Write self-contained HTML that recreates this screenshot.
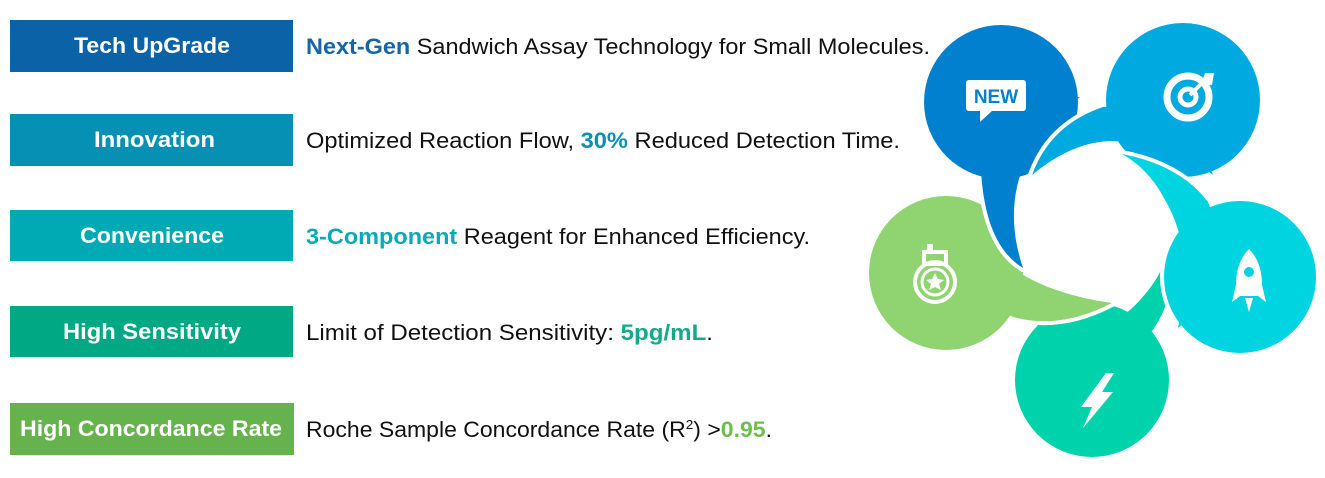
<!DOCTYPE html>
<html><head><meta charset="utf-8"><style>
html,body{margin:0;padding:0;background:#fff;}
svg{display:block;}
text{font-family:"Liberation Sans",sans-serif;}
</style></head><body>
<svg width="1325" height="478" viewBox="0 0 1325 478" xmlns="http://www.w3.org/2000/svg">
<defs>
<g id="pg"><circle cx="946" cy="273" r="77"/><path d="M965,197 Q985,285 1112,303 Q1060,330 1013,317 L946,273 Z"/></g>
<g id="pb"><circle cx="1001" cy="102" r="77"/><path d="M981,170 Q985,245 1023,268 Q1000,200 1035,143 Q1055,115 1080,97 L1001,102 Z"/></g>
<g id="pl"><circle cx="1183" cy="100" r="77"/><path d="M1103,107 Q1050,125 1032,175 Q1080,135 1127,142 Q1180,148 1213,175 L1183,100 Z"/></g>
<g id="pc"><circle cx="1240" cy="277" r="76"/><path d="M1122,154 Q1180,165 1208,202 L1240,277 L1178,328 Q1195,250 1165,200 Q1150,170 1122,154 Z"/></g>
<g id="pt"><circle cx="1092" cy="380" r="77"/><path d="M1172,233 Q1180,290 1153,330 L1092,380 L1025,340 Q1100,345 1140,300 Q1168,270 1172,233 Z"/></g>
</defs>
<rect width="1325" height="478" fill="#fff"/>
<rect x="10" y="20" width="283" height="52" fill="#0c62a6"/>
<rect x="10" y="114" width="283" height="52" fill="#0690b4"/>
<rect x="10" y="210" width="283" height="51" fill="#00aab4"/>
<rect x="10" y="306" width="283" height="51" fill="#00a983"/>
<rect x="10" y="403" width="284" height="52" fill="#66b24c"/>
<g fill="#fff" font-weight="bold" font-size="22">
<text x="74" y="53" textLength="156" lengthAdjust="spacingAndGlyphs">Tech UpGrade</text>
<text x="94" y="147" textLength="121" lengthAdjust="spacingAndGlyphs">Innovation</text>
<text x="80" y="243" textLength="144" lengthAdjust="spacingAndGlyphs">Convenience</text>
<text x="63" y="339" textLength="178" lengthAdjust="spacingAndGlyphs">High Sensitivity</text>
<text x="20" y="436" textLength="262" lengthAdjust="spacingAndGlyphs">High Concordance Rate</text>
</g>
<g font-size="22" fill="#111">
<text x="306" y="54" textLength="624" lengthAdjust="spacingAndGlyphs"><tspan fill="#1565a8" font-weight="bold">Next-Gen</tspan> Sandwich Assay Technology for Small Molecules.</text>
<text x="306" y="148" textLength="594" lengthAdjust="spacingAndGlyphs">Optimized Reaction Flow, <tspan fill="#0a8fb5" font-weight="bold">30%</tspan> Reduced Detection Time.</text>
<text x="306" y="244" textLength="504" lengthAdjust="spacingAndGlyphs"><tspan fill="#0aa9b5" font-weight="bold">3-Component</tspan> Reagent for Enhanced Efficiency.</text>
<text x="306" y="340" textLength="407" lengthAdjust="spacingAndGlyphs">Limit of Detection Sensitivity: <tspan fill="#13aa88" font-weight="bold">5pg/mL</tspan>.</text>
<text x="306" y="437" textLength="466" lengthAdjust="spacingAndGlyphs">Roche Sample Concordance Rate (R<tspan font-size="13" dy="-8">2</tspan><tspan dy="8">) &gt;</tspan><tspan fill="#6cbf4e" font-weight="bold">0.95</tspan>.</text>
</g>
<use href="#pt" fill="#fff" stroke="#fff" stroke-width="8" stroke-linejoin="round"/>
<use href="#pt" fill="#00d2ab"/>
<use href="#pg" fill="#fff" stroke="#fff" stroke-width="8" stroke-linejoin="round"/>
<use href="#pg" fill="#8fd470"/>
<use href="#pb" fill="#fff" stroke="#fff" stroke-width="8" stroke-linejoin="round"/>
<use href="#pb" fill="#0280d0"/>
<use href="#pl" fill="#fff" stroke="#fff" stroke-width="8" stroke-linejoin="round"/>
<use href="#pl" fill="#00a9e0"/>
<use href="#pc" fill="#fff" stroke="#fff" stroke-width="8" stroke-linejoin="round"/>
<use href="#pc" fill="#00d4e0"/>
<g>
<rect x="966" y="80" width="60" height="31" rx="3" fill="#fff"/>
<polygon points="980,110 980,122 993,110" fill="#fff"/>
<text x="996" y="103" text-anchor="middle" font-size="19" font-weight="bold" fill="#0280d0">NEW</text>
</g>
<g fill="none" stroke="#fff">
<circle cx="1188" cy="97" r="21" stroke-width="7"/>
<circle cx="1188" cy="97" r="8" stroke-width="5"/>
<line x1="1190" y1="95" x2="1207" y2="78" stroke-width="4"/>
</g>
<polygon points="1205,73 1214,73 1212,85 1201,84" fill="#fff"/>
<g fill="#fff">
<path d="M1249,249 Q1236,262 1236,285 L1232,302 L1240,296 L1258,296 L1266,302 L1262,285 Q1262,262 1249,249 Z"/>
<circle cx="1249" cy="272" r="5" fill="#00d4e0"/>
<polygon points="1245,298 1253,298 1249,312"/>
</g>
<polygon points="1106,373 1081,407 1092,407 1083,428 1113,392 1102,392 1114,373" fill="#fff"/>
<g>
<rect x="927" y="244" width="6" height="10" fill="#fff"/>
<rect x="924" y="252" width="22" height="12" fill="none" stroke="#fff" stroke-width="4"/>
<circle cx="935" cy="282" r="20" fill="none" stroke="#fff" stroke-width="4"/>
<circle cx="935" cy="282" r="13" fill="none" stroke="#fff" stroke-width="3"/>
<polygon points="935,273 938,279 944,280 939,284 941,290 935,287 929,290 931,284 926,280 932,279" fill="#fff"/>
</g>
</svg>
</body></html>
